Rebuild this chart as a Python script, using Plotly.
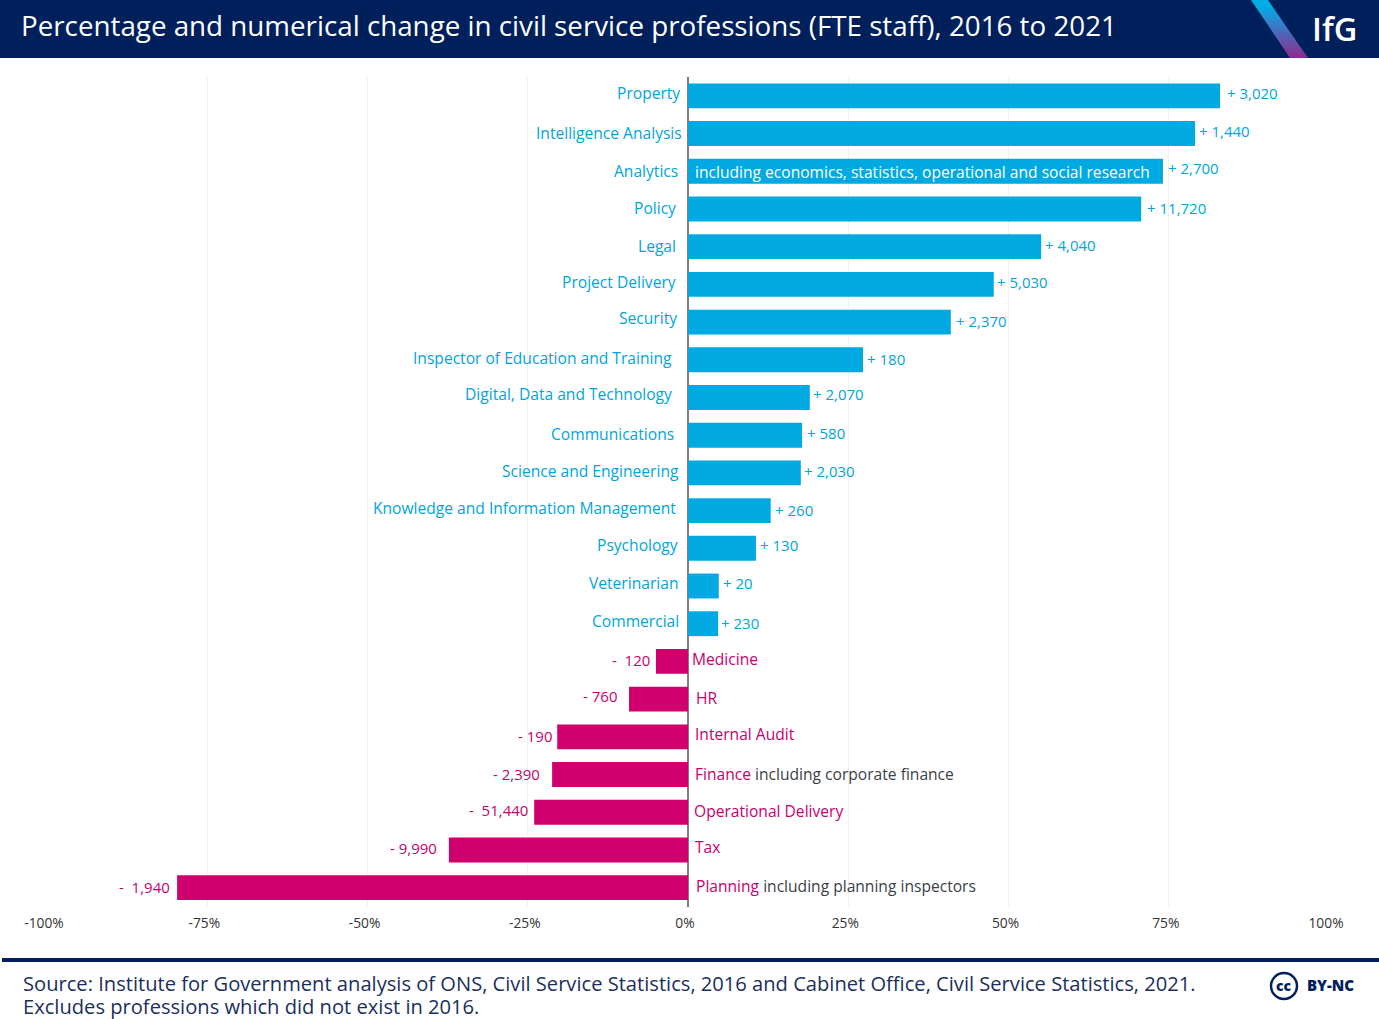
import base64
import plotly.graph_objects as go

W, H = 1379, 1019
NAVY = "#00205b"
BLUE = "#00a9e2"
BLUE_TEXT = "#00a5dc"
PINK = "#cf006e"
PINK_TEXT = "#c8006e"
FONT = "Open Sans"

professions = ["Property", "Intelligence Analysis", "Analytics", "Policy", "Legal",
               "Project Delivery", "Security", "Inspector of Education and Training",
               "Digital, Data and Technology", "Communications", "Science and Engineering",
               "Knowledge and Information Management", "Psychology", "Veterinarian",
               "Commercial", "Medicine", "HR", "Internal Audit", "Finance",
               "Operational Delivery", "Tax", "Planning"]
pct_change = [83.0, 79.1, 74.1, 70.7, 55.1, 47.7, 41.0, 27.3, 19.0, 17.8, 17.6,
              12.9, 10.6, 4.8, 4.7, -5.0, -9.2, -20.4, -21.2, -24.0, -37.3, -79.7]
fte_change = ["+ 3,020", "+ 1,440", "+ 2,700", "+ 11,720", "+ 4,040", "+ 5,030", "+ 2,370",
              "+ 180", "+ 2,070", "+ 580", "+ 2,030", "+ 260", "+ 130", "+ 20", "+ 230",
              "-\u00a0 120", "- 760", "- 190", "- 2,390", "-\u00a0 51,440", "- 9,990", "-\u00a0 1,940"]
notes = {"Finance": "including corporate finance",
         "Planning": "including planning inspectors"}
analytics_note = "including economics, statistics, operational and social research"
tick_vals = [-100, -75, -50, -25, 0, 25, 50, 75, 100]
tick_text = ["-100%", "-75%", "-50%", "-25%", "0%", "25%", "50%", "75%", "100%"]

# the labels in the original were placed by hand, so each one has its own nudge (px)
name_dx = [-8, -6, -10, -12, -12, -12, -11, -16, -16, -14, -9, -12, -10, -10, -9,
           4, 8, 7, 7, 6, 7, 8]
name_dy = [3, 1, 0, 1, 1, 2, 4, 2, 3, 1, 2, 3, 3, 3, 3, 2, 1, 3, 1, 1, 3, 2]
value_dx = [7, 4, 5, 6, 4, 3, 5, 4, 3, 5, 3, 4, 4, 4, 3, -6, -12, -5, -12, -6, -12, -7]
value_dy = [3, 3, 3, 1, 2, 2, 1, 1, 3, 2, 2, 1, 3, 3, 1, 1, 3, 1, 1, 2, 2, 1]


def px_x(v):
    return v / W


def px_y(v):
    return 1 - v / H


bar_colors = [BLUE if v > 0 else PINK for v in pct_change]
fig = go.Figure(go.Bar(x=pct_change, y=professions, orientation="h",
                       marker=dict(color=bar_colors, line_width=0),
                       hoverinfo="skip", showlegend=False))

annotations = []
for i, name in enumerate(professions):
    up = pct_change[i] > 0
    color = BLUE_TEXT if up else PINK_TEXT
    text = name
    if name in notes:
        text = f"{name} <span style='color:#3a4048'>{notes[name]}</span>"
    annotations.append(dict(x=0, y=name, text=text, showarrow=False,
                            xanchor="right" if up else "left", xshift=name_dx[i] + (2 if up else -2),
                            yshift=name_dy[i], font=dict(color=color, size=15.6, family=FONT, weight=500)))
    annotations.append(dict(x=pct_change[i], y=name, text=fte_change[i], showarrow=False,
                            xanchor="left" if up else "right", xshift=value_dx[i] + (-2 if up else 2),
                            yshift=value_dy[i], font=dict(color=color, size=15, family=FONT, weight=500)))

annotations.append(dict(x=0, y="Analytics", text=analytics_note, showarrow=False, xanchor="left",
                        xshift=5, yshift=-1, font=dict(color="white", size=15.6, family=FONT, weight=500)))


def page_text(x, y, text, size, color, anchor="left", weight=None):
    font = dict(size=size, color=color, family=FONT)
    if weight:
        font["weight"] = weight
    annotations.append(dict(x=px_x(x), y=px_y(y), xref="paper", yref="paper", text=text,
                            showarrow=False, xanchor=anchor, yanchor="middle", font=font))


page_text(19, 25, "Percentage and numerical change in civil service professions (FTE staff), 2016 to 2021",
          27.75, "white", weight=500)
page_text(1310, 29, "IfG", 32.5, "white", weight=600)
page_text(21, 983, "Source: Institute for Government analysis of ONS, Civil Service Statistics, 2016 and "
          "Cabinet Office, Civil Service Statistics, 2021.", 20.14, "#1a2f5c")
page_text(21, 1006, "Excludes professions which did not exist in 2016.", 20.14, "#1a2f5c")
page_text(1284, 985, "cc", 14, NAVY, anchor="center", weight=800)
page_text(1305, 985, "BY-NC", 15, NAVY, weight=800)

shapes = [
    dict(type="rect", xref="paper", yref="paper", x0=0, x1=1, y0=px_y(58), y1=1,
         fillcolor=NAVY, line_width=0, layer="below"),
    dict(type="rect", xref="paper", yref="paper", x0=px_x(2), x1=1, y0=px_y(962), y1=px_y(958),
         fillcolor=NAVY, line_width=0, layer="below"),
    dict(type="circle", xref="paper", yref="paper", x0=px_x(1271), x1=px_x(1297),
         y0=px_y(999), y1=px_y(973), line=dict(color=NAVY, width=2.5)),
]

# gradient stripe of the logo
stripe = ('<svg xmlns="http://www.w3.org/2000/svg" width="60" height="58">'
          '<defs><linearGradient id="g" x1="0" y1="0" x2="0" y2="1">'
          '<stop offset="0.1" stop-color="#00aee6"/><stop offset="1" stop-color="#92278f"/>'
          '</linearGradient></defs><polygon points="1,0 18,0 58,58 40,58" fill="url(#g)"/></svg>')
stripe_src = "data:image/svg+xml;base64," + base64.b64encode(stripe.encode()).decode()

fig.update_layout(
    width=W, height=H,
    margin=dict(l=0, r=0, t=0, b=0, autoexpand=False),
    paper_bgcolor="white", plot_bgcolor="white",
    bargap=0.34,
    font=dict(family=FONT),
    xaxis=dict(domain=[px_x(47), px_x(1329)], range=[-100, 100], tickvals=tick_vals, ticktext=tick_text,
               showgrid=True, gridcolor="#f1f1f1", gridwidth=1, zeroline=True, zerolinecolor="#808080",
               zerolinewidth=1.5, showline=False, ticks="", ticklabelshift=-3,
               tickfont=dict(size=13.8, color="#333333", family=FONT), ticklabelstandoff=7),
    yaxis=dict(domain=[px_y(906.5), px_y(77)], autorange="reversed", showticklabels=False,
               showgrid=False, zeroline=False, ticks=""),
    annotations=annotations,
    shapes=shapes,
    images=[dict(source=stripe_src, xref="paper", yref="paper", x=px_x(1250), y=1,
                 sizex=60 / W, sizey=58 / H, sizing="stretch", xanchor="left", yanchor="top", layer="above")],
)

fig.write_html("out.html", config=dict(displayModeBar=False),
               post_script="document.body.style.margin='0';")
